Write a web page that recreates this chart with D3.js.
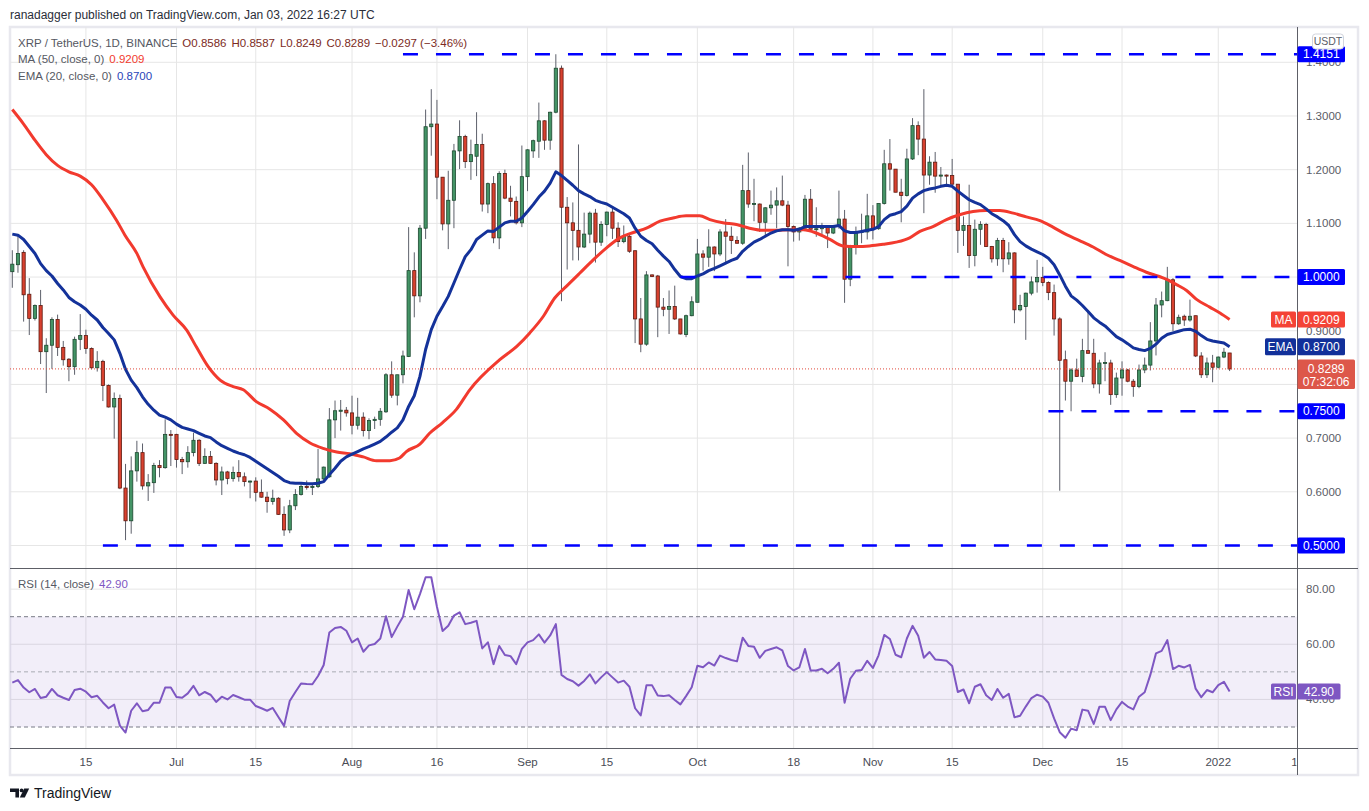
<!DOCTYPE html>
<html>
<head>
<meta charset="utf-8">
<script src="https://d3js.org/d3.v7.min.js"></script>
<style>
  body { margin: 0; background: #fff; }
  text { font-family: "Liberation Sans", Arial, sans-serif; }
</style>
</head>
<body>
<svg id="chart" width="1369" height="811"></svg>
<script>
// XRP / USDT daily, 2 Jun 2021 .. 3 Jan 2022 (one value per day)
const firstDay = Date.UTC(2021, 5, 2);
const lastDay = Date.UTC(2022, 0, 3);

const opens = [1.010,1.023,1.046,0.968,0.923,0.947,0.861,0.873,0.921,0.869,0.847,0.833,0.884,0.891,0.867,0.831,0.843,0.798,0.758,0.774,
  0.607,0.546,0.639,0.673,0.611,0.617,0.649,0.645,0.707,0.707,0.660,0.656,0.673,0.696,0.653,0.666,0.653,0.622,0.637,0.625,
  0.636,0.628,0.619,0.620,0.599,0.590,0.582,0.588,0.558,0.529,0.574,0.595,0.610,0.608,0.610,0.624,0.628,0.734,0.750,0.752,
  0.747,0.724,0.739,0.714,0.733,0.735,0.749,0.818,0.780,0.818,0.852,1.012,0.965,1.091,1.280,1.285,1.186,1.099,1.143,1.235,
  1.262,1.215,1.225,1.247,1.136,1.174,1.073,1.193,1.147,1.141,1.101,1.187,1.235,1.253,1.291,1.255,1.307,1.389,1.130,1.101,
  1.087,1.056,1.080,1.119,1.065,1.098,1.121,1.091,1.066,1.076,1.049,0.922,0.875,1.004,1.002,0.944,0.940,0.945,0.922,0.893,
  0.928,0.953,1.043,1.037,1.056,1.043,1.084,1.076,1.068,1.063,1.161,1.136,1.136,1.102,1.129,1.134,1.142,1.134,1.094,1.084,
  1.091,1.145,1.089,1.090,1.093,1.082,1.094,1.108,0.996,1.058,1.084,1.084,1.114,1.090,1.137,1.211,1.201,1.158,1.152,1.220,
  1.282,1.257,1.190,1.214,1.188,1.190,1.189,1.173,1.087,1.096,1.040,1.089,1.098,1.057,1.034,1.068,1.034,1.045,0.939,0.945,
  0.970,0.991,0.999,0.990,0.971,0.922,0.846,0.806,0.827,0.815,0.863,0.858,0.801,0.840,0.840,0.781,0.812,0.827,0.806,0.796,
  0.827,0.836,0.881,0.948,0.956,0.995,0.913,0.927,0.920,0.928,0.853,0.818,0.840,0.832,0.851,0.8586];
const highs = [1.050,1.080,1.050,0.998,0.949,0.976,0.886,0.925,0.930,0.881,0.849,0.889,0.931,0.902,0.869,0.862,0.846,0.800,0.785,0.781,
  0.652,0.666,0.695,0.690,0.633,0.654,0.659,0.735,0.715,0.708,0.665,0.685,0.710,0.698,0.681,0.676,0.655,0.647,0.639,0.647,
  0.659,0.636,0.621,0.627,0.623,0.600,0.604,0.590,0.573,0.585,0.605,0.616,0.621,0.616,0.680,0.647,0.756,0.770,0.771,0.758,
  0.779,0.775,0.748,0.737,0.740,0.756,0.821,0.843,0.818,0.863,1.093,1.046,1.097,1.312,1.350,1.330,1.186,1.198,1.248,1.292,
  1.265,1.256,1.307,1.267,1.176,1.188,1.197,1.200,1.170,1.150,1.245,1.238,1.256,1.325,1.292,1.308,1.415,1.394,1.149,1.139,
  1.247,1.120,1.122,1.127,1.104,1.122,1.129,1.102,1.096,1.079,1.050,0.961,1.011,1.005,1.004,0.961,0.975,0.984,0.922,0.930,
  0.964,1.071,1.050,1.089,1.057,1.089,1.108,1.094,1.076,1.209,1.232,1.183,1.137,1.130,1.161,1.167,1.189,1.142,1.096,1.093,
  1.153,1.164,1.130,1.101,1.094,1.097,1.161,1.125,1.060,1.094,1.118,1.155,1.134,1.137,1.237,1.257,1.201,1.183,1.239,1.296,
  1.290,1.350,1.225,1.233,1.205,1.191,1.220,1.173,1.113,1.172,1.107,1.104,1.101,1.058,1.073,1.073,1.065,1.046,0.967,0.971,
  1.001,1.032,1.019,0.992,0.986,0.925,0.863,0.830,0.848,0.885,0.936,0.885,0.846,0.860,0.846,0.822,0.843,0.829,0.810,0.837,
  0.850,0.916,0.961,0.973,1.019,0.998,0.930,0.930,0.958,0.928,0.860,0.850,0.855,0.852,0.868,0.8587];
const lows = [0.980,1.008,0.917,0.892,0.919,0.838,0.784,0.829,0.853,0.835,0.806,0.818,0.864,0.857,0.828,0.824,0.769,0.757,0.699,0.605,
  0.510,0.522,0.619,0.604,0.583,0.598,0.627,0.643,0.648,0.645,0.633,0.645,0.666,0.648,0.652,0.652,0.612,0.594,0.614,0.619,
  0.619,0.610,0.588,0.582,0.589,0.561,0.576,0.557,0.518,0.523,0.566,0.593,0.604,0.594,0.607,0.621,0.626,0.700,0.714,0.740,
  0.707,0.716,0.703,0.698,0.717,0.723,0.747,0.775,0.761,0.802,0.851,0.925,0.953,1.071,1.226,1.145,1.087,1.052,1.091,1.201,
  1.203,1.181,1.188,1.122,1.119,1.063,1.052,1.145,1.113,1.098,1.093,1.160,1.222,1.222,1.237,1.237,1.305,0.955,1.014,1.031,
  1.031,1.054,1.063,1.027,1.058,1.076,1.071,1.056,1.063,1.045,0.877,0.860,0.872,1.000,0.888,0.927,0.894,0.920,0.893,0.888,
  0.927,0.953,1.012,1.019,1.011,1.039,1.024,1.043,1.062,1.060,1.129,1.104,1.084,1.077,1.116,1.091,1.132,1.020,1.066,1.068,
  1.088,1.088,1.075,1.080,1.054,1.080,1.090,0.952,0.983,1.042,1.063,1.070,1.070,1.088,1.135,1.161,1.158,1.102,1.150,1.218,
  1.227,1.119,1.172,1.157,1.169,1.172,1.172,1.045,1.058,1.017,1.020,1.060,1.056,1.027,1.021,1.009,1.023,0.914,0.936,0.883,
  0.966,0.971,0.983,0.957,0.891,0.602,0.770,0.750,0.814,0.804,0.857,0.793,0.783,0.806,0.762,0.775,0.779,0.804,0.777,0.793,
  0.821,0.826,0.854,0.925,0.955,0.899,0.911,0.909,0.917,0.851,0.812,0.812,0.804,0.830,0.849,0.8249];
const closes = [1.024,1.044,0.967,0.923,0.947,0.861,0.873,0.921,0.869,0.846,0.833,0.884,0.891,0.867,0.831,0.843,0.798,0.758,0.774,0.607,
  0.546,0.639,0.673,0.611,0.617,0.649,0.645,0.707,0.706,0.660,0.656,0.673,0.696,0.653,0.666,0.653,0.622,0.637,0.625,0.636,
  0.628,0.619,0.620,0.599,0.590,0.582,0.588,0.558,0.529,0.574,0.595,0.610,0.608,0.610,0.624,0.646,0.734,0.751,0.752,0.747,
  0.724,0.739,0.714,0.733,0.735,0.750,0.818,0.780,0.818,0.853,1.012,0.965,1.091,1.280,1.285,1.186,1.099,1.143,1.235,1.262,
  1.215,1.228,1.247,1.136,1.174,1.073,1.193,1.147,1.141,1.101,1.187,1.237,1.254,1.291,1.255,1.307,1.389,1.130,1.101,1.087,
  1.056,1.080,1.119,1.065,1.098,1.121,1.091,1.066,1.076,1.048,0.922,0.875,1.004,1.001,0.944,0.940,0.945,0.922,0.894,0.928,
  0.954,1.043,1.037,1.056,1.043,1.084,1.076,1.068,1.063,1.161,1.136,1.137,1.102,1.129,1.134,1.142,1.134,1.094,1.084,1.091,
  1.145,1.089,1.090,1.094,1.082,1.094,1.108,0.996,1.058,1.084,1.085,1.114,1.090,1.137,1.211,1.201,1.158,1.152,1.220,1.282,
  1.257,1.190,1.214,1.188,1.190,1.188,1.173,1.087,1.096,1.040,1.089,1.098,1.057,1.034,1.068,1.034,1.045,0.939,0.947,0.970,
  0.991,0.999,0.990,0.971,0.922,0.845,0.806,0.827,0.815,0.863,0.858,0.801,0.840,0.841,0.781,0.812,0.827,0.806,0.796,0.827,
  0.836,0.881,0.948,0.956,0.995,0.913,0.925,0.920,0.927,0.853,0.818,0.840,0.832,0.851,0.860,0.8289];

const ema20 = [1.080,1.078,1.070,1.057,1.044,1.025,1.012,1.002,0.988,0.976,0.962,0.954,0.948,0.940,0.929,0.920,0.906,0.895,0.883,0.858,
  0.828,0.808,0.794,0.777,0.763,0.752,0.743,0.739,0.734,0.726,0.720,0.717,0.714,0.709,0.704,0.701,0.693,0.686,0.681,0.676,
  0.672,0.669,0.664,0.657,0.650,0.643,0.636,0.629,0.621,0.617,0.616,0.616,0.615,0.615,0.616,0.619,0.632,0.644,0.657,0.665,
  0.670,0.675,0.680,0.684,0.689,0.694,0.702,0.711,0.719,0.734,0.759,0.779,0.815,0.865,0.902,0.927,0.945,0.964,0.989,1.014,
  1.038,1.051,1.070,1.078,1.086,1.085,1.093,1.101,1.104,1.104,1.110,1.122,1.135,1.149,1.160,1.175,1.196,1.189,1.180,1.171,
  1.161,1.155,1.150,1.143,1.139,1.136,1.130,1.124,1.118,1.110,1.091,1.076,1.068,1.062,1.050,1.039,1.029,1.014,1.001,0.997,
  0.997,1.002,1.006,1.012,1.016,1.021,1.026,1.031,1.035,1.048,1.057,1.065,1.070,1.076,1.082,1.086,1.088,1.088,1.087,1.089,
  1.094,1.094,1.094,1.094,1.094,1.094,1.096,1.086,1.083,1.083,1.085,1.087,1.089,1.094,1.107,1.115,1.118,1.122,1.132,1.147,
  1.155,1.161,1.164,1.166,1.169,1.171,1.169,1.160,1.152,1.144,1.139,1.135,1.127,1.118,1.112,1.105,1.096,1.079,1.066,1.058,
  1.052,1.047,1.042,1.035,1.023,1.004,0.983,0.965,0.957,0.947,0.936,0.924,0.916,0.909,0.899,0.889,0.883,0.876,0.868,0.865,
  0.863,0.867,0.875,0.886,0.893,0.896,0.899,0.902,0.903,0.899,0.891,0.884,0.881,0.879,0.877,0.870];

// 50-day MA as [day index, value]
const ma50 = [[0,1.312],[2,1.285],[4,1.255],[6,1.228],[8,1.208],[10,1.196],[12,1.188],[14,1.172],[16.1,1.143],[18.4,1.106],
  [19.9,1.078],[22,1.044],[23.1,1.019],[26.1,0.963],[28.4,0.929],[30.8,0.901],[32.5,0.870],[34.6,0.833],[36.7,0.808],[39,0.796],
  [40.8,0.790],[43.1,0.768],[45.5,0.754],[47.9,0.734],[50.2,0.709],[52.6,0.691],[54.9,0.681],[57.3,0.674],[59.6,0.671],[62,0.665],
  [64.3,0.658],[66.7,0.658],[68.4,0.663],[69.6,0.675],[72,0.689],[73.7,0.709],[76,0.729],[78.4,0.753],[80.8,0.790],[86.1,0.846],
  [89.1,0.871],[91.4,0.896],[93.8,0.927],[95.8,0.961],[97.9,0.983],[100.2,1.007],[102.6,1.032],[104.9,1.054],[107.3,1.073],[109.7,1.083],
  [112,1.091],[114.4,1.104],[116.7,1.110],[119,1.114],[121.4,1.114],[123.2,1.107],[125.5,1.101],[127.9,1.098],[130.2,1.091],[132.6,1.087],
  [135,1.087],[137.3,1.088],[139.7,1.088],[142,1.082],[144.4,1.070],[146.7,1.058],[149.1,1.057],[151.4,1.058],[153.8,1.061],[156.1,1.065],
  [158.5,1.073],[160.3,1.085],[162.6,1.094],[165,1.107],[167.3,1.116],[169.7,1.122],[172,1.124],[174.4,1.124],[176.8,1.119],[179.1,1.112],
  [181.5,1.105],[183.8,1.093],[186.2,1.079],[188.5,1.068],[190.9,1.056],[193.2,1.042],[195.6,1.031],[197.9,1.020],[200.3,1.009],[202.6,1.001],
  [203.8,0.996],[205.6,0.986],[207.4,0.975],[209.1,0.959],[211.5,0.944],[213.3,0.933],[215,0.9209]];

const rsi14 = [46.1,47.0,44.3,42.6,43.8,40.5,41.0,43.8,41.5,40.6,39.8,43.4,43.9,42.8,40.8,41.3,38.9,36.8,38.1,30.5,
  28.0,35.9,38.6,35.7,36.2,38.8,38.8,44.3,44.3,40.9,40.6,42.2,44.9,41.5,42.7,41.7,39.1,41.0,40.0,41.6,
  40.8,39.9,39.9,37.6,36.8,35.9,36.9,33.6,30.4,39.4,42.7,45.8,45.6,45.5,48.5,52.5,64.3,65.9,66.3,64.9,
  60.7,62.1,57.3,59.6,60.1,62.1,70.2,62.6,66.4,70.0,79.7,72.7,78.2,84.3,84.3,73.6,64.8,66.7,70.4,71.6,
  67.3,67.8,68.5,58.5,60.7,52.8,59.4,56.1,55.7,52.8,58.3,60.7,61.5,63.6,60.6,63.2,67.3,48.9,47.4,46.6,
  45.0,46.7,49.1,45.8,48.0,49.9,48.0,46.1,46.8,44.6,36.8,34.2,45.1,45.1,41.4,41.2,41.5,39.8,38.2,41.2,
  44.4,52.2,51.7,53.4,52.3,55.9,55.0,54.3,53.8,62.4,59.4,59.1,55.1,57.6,58.3,58.9,57.8,52.1,50.5,51.6,
  58.3,50.5,50.5,51.1,49.5,51.1,53.3,38.8,47.5,50.4,50.7,54.0,51.4,56.0,63.4,61.9,56.2,55.3,62.1,66.7,
  63.1,55.1,57.2,54.5,54.3,54.0,52.1,42.7,43.6,38.6,44.6,45.5,41.5,39.8,43.8,40.6,42.0,33.5,34.1,37.4,
  40.5,41.7,41.0,38.8,33.1,28.1,26.1,29.4,28.8,36.3,35.9,31.1,37.3,37.3,32.5,36.4,39.1,37.4,36.4,41.0,
  42.6,48.9,56.7,57.6,61.5,51.0,52.2,51.6,52.5,43.9,40.8,43.4,42.6,45.2,46.4,42.9];

// horizontal levels drawn by the author
const levelValues = [1.4151, 1.0, 0.75, 0.5];
const levelStarts = ["2021-08-10", "2021-09-28", "2021-12-02", "2021-06-18"];

// 1.0, 0.8 and 0.5 sit fully under the price badges, so they are not listed
const priceTicks = [0.6, 0.7, 0.9, 1.1, 1.2, 1.3, 1.4];
const gridTicks = [0.5, 0.6, 0.7, 0.8, 0.9, 1.0, 1.1, 1.2, 1.3, 1.4];
const rsiTicks = [40, 60, 80];
const timeTicks = ["2021-06-15","2021-07-01","2021-07-15","2021-08-01","2021-08-16","2021-09-01","2021-09-15",
  "2021-10-01","2021-10-18","2021-11-01","2021-11-15","2021-12-01","2021-12-15","2022-01-01","2022-01-15"];
const timeLabels = ["15","Jul","15","Aug","16","Sep","15","Oct","18","Nov","15","Dec","15","2022","15"];

const lastClose = closes[closes.length - 1];
const lastMa = ma50[ma50.length - 1][1];
const lastEma = ema20[ema20.length - 1];
const lastRsi = rsi14[rsi14.length - 1];

// ---- layout
const plotLeft = 10, axisX = 1297.5, plotRight = 1358;
const paneTop = 27, paneSplit = 568.5, bottomAxis = 748.5, frameBottom = 775;

const svg = d3.select("#chart");

const x = d3.scaleUtc().domain([new Date(firstDay), new Date(lastDay)]).range([12.3, 1229.6]);
const dayX = i => x(new Date(firstDay + i * 864e5));
const y = d3.scaleLinear().domain([0.5, 1.4]).range([545.5, 62.3]);
const yR = d3.scaleLinear().domain([30, 70]).range([727, 616.7]);

const defs = svg.append("defs");
defs.append("clipPath").attr("id", "clipPrice")
  .append("rect").attr("x", plotLeft).attr("y", paneTop).attr("width", axisX - plotLeft).attr("height", paneSplit - paneTop);
defs.append("clipPath").attr("id", "clipRsi")
  .append("rect").attr("x", plotLeft).attr("y", paneSplit).attr("width", axisX - plotLeft).attr("height", bottomAxis - paneSplit);
defs.append("clipPath").attr("id", "clipTime")
  .append("rect").attr("x", plotLeft).attr("y", bottomAxis).attr("width", axisX - plotLeft - 1).attr("height", 30);

// header
svg.append("text").attr("x", 10).attr("y", 19).attr("font-size", 12).attr("fill", "#2a2e39")
  .text("ranadagger published on TradingView.com, Jan 03, 2022 16:27 UTC");

// frame
svg.append("rect").attr("x", plotLeft).attr("y", paneTop).attr("width", plotRight - plotLeft).attr("height", frameBottom - paneTop)
  .attr("fill", "none").attr("stroke", "#e8e8ee").attr("stroke-width", 2.5);

// grid
const tickDates = timeTicks.map(d => new Date(d + "T00:00:00Z"));
svg.append("g").attr("clip-path", "url(#clipPrice)")
  .selectAll("line").data(tickDates).join("line")
  .attr("x1", d => x(d)).attr("x2", d => x(d)).attr("y1", paneTop).attr("y2", paneSplit)
  .attr("stroke", "#e6e6e6");
svg.append("g").attr("clip-path", "url(#clipRsi)")
  .selectAll("line").data(tickDates).join("line")
  .attr("x1", d => x(d)).attr("x2", d => x(d)).attr("y1", paneSplit).attr("y2", bottomAxis)
  .attr("stroke", "#e6e6e6");
svg.append("g").selectAll("line").data(gridTicks).join("line")
  .attr("x1", plotLeft).attr("x2", axisX).attr("y1", d => y(d)).attr("y2", d => y(d))
  .attr("stroke", "#e6e6e6");
svg.append("g").selectAll("line").data(rsiTicks).join("line")
  .attr("x1", plotLeft).attr("x2", axisX).attr("y1", d => yR(d)).attr("y2", d => yR(d))
  .attr("stroke", "#e6e6e6");

// RSI band
svg.append("rect").attr("x", plotLeft).attr("y", yR(70)).attr("width", axisX - plotLeft).attr("height", yR(30) - yR(70))
  .attr("fill", "#7e57c2").attr("fill-opacity", 0.1);
svg.append("g").selectAll("line").data([70, 50, 30]).join("line")
  .attr("x1", plotLeft).attr("x2", axisX).attr("y1", d => yR(d)).attr("y2", d => yR(d))
  .attr("stroke", d => d === 50 ? "#a9abb3" : "#787b86").attr("stroke-dasharray", "4,3");

// candles
const plot = svg.append("g").attr("clip-path", "url(#clipPrice)");
const candles = plot.append("g").selectAll("g").data(opens.map((o, i) => ({
  i, o, h: highs[i], l: lows[i], c: closes[i]
}))).join("g");
candles.append("line")
  .attr("x1", d => dayX(d.i)).attr("x2", d => dayX(d.i))
  .attr("y1", d => y(d.h)).attr("y2", d => y(d.l))
  .attr("stroke", "#5d606b").attr("stroke-width", 1);
candles.append("rect")
  .attr("x", d => dayX(d.i) - 1.6).attr("width", 3.2)
  .attr("y", d => y(Math.max(d.o, d.c)))
  .attr("height", d => Math.max(1, Math.abs(y(d.o) - y(d.c))))
  .attr("fill", d => d.c >= d.o ? "#449466" : "#d8412f")
  .attr("stroke", d => d.c >= d.o ? "#1d4930" : "#5e1a10")
  .attr("stroke-width", 0.8);

// moving averages
plot.append("path").datum(ma50)
  .attr("d", d3.line().x(d => dayX(d[0])).y(d => y(d[1])).curve(d3.curveMonotoneX))
  .attr("fill", "none").attr("stroke", "#f23a2e").attr("stroke-width", 3);
plot.append("path").datum(ema20)
  .attr("d", d3.line().x((d, i) => dayX(i)).y(d => y(d)))
  .attr("fill", "none").attr("stroke", "#14329a").attr("stroke-width", 3).attr("stroke-linejoin", "round");

// last close dotted line
plot.append("line").attr("x1", plotLeft).attr("x2", axisX).attr("y1", y(lastClose)).attr("y2", y(lastClose))
  .attr("stroke", "#e0473a").attr("stroke-dasharray", "1,2");

// author levels
plot.append("g").selectAll("line").data(levelValues).join("line")
  .attr("x1", (d, i) => x(new Date(levelStarts[i] + "T00:00:00Z"))).attr("x2", axisX)
  .attr("y1", d => y(d)).attr("y2", d => y(d))
  .attr("stroke", "#0000ff").attr("stroke-width", 2.6).attr("stroke-dasharray", "15,18");

// RSI line
svg.append("g").attr("clip-path", "url(#clipRsi)").append("path").datum(rsi14)
  .attr("d", d3.line().x((d, i) => dayX(i)).y(d => yR(d)))
  .attr("fill", "none").attr("stroke", "#7e57c2").attr("stroke-width", 2).attr("stroke-linejoin", "round");

// separators and axes
svg.append("line").attr("x1", plotLeft).attr("x2", plotRight).attr("y1", paneSplit).attr("y2", paneSplit).attr("stroke", "#5d5f66");
svg.append("line").attr("x1", plotLeft).attr("x2", plotRight).attr("y1", bottomAxis).attr("y2", bottomAxis).attr("stroke", "#5d5f66");
svg.append("line").attr("x1", axisX).attr("x2", axisX).attr("y1", paneTop).attr("y2", frameBottom).attr("stroke", "#5d5f66");

// time axis labels
svg.append("g").attr("clip-path", "url(#clipTime)")
  .selectAll("text").data(tickDates).join("text")
  .attr("x", d => x(d)).attr("y", 766).attr("text-anchor", "middle")
  .attr("font-size", 11.5).attr("fill", "#4a4c55")
  .text((d, i) => timeLabels[i]);

// price axis labels
svg.append("g").selectAll("text").data(priceTicks).join("text")
  .attr("x", 1306).attr("y", d => y(d) + 4).attr("font-size", 11.5).attr("fill", "#5a5d66")
  .text(d => d.toFixed(4));
svg.append("g").selectAll("text").data(rsiTicks).join("text")
  .attr("x", 1306).attr("y", d => yR(d) + 4).attr("font-size", 11.5).attr("fill", "#5a5d66")
  .text(d => d.toFixed(2));

// axis badges
function badge(x0, yc, w, h, fill, label) {
  const g = svg.append("g");
  g.append("rect").attr("x", x0).attr("y", yc - h / 2).attr("width", w).attr("height", h).attr("rx", 1.5).attr("fill", fill);
  g.append("text").attr("x", x0 + w / 2).attr("y", yc + 4.2).attr("text-anchor", "middle")
    .attr("font-size", 12).attr("fill", "#fff").text(label);
}
levelValues.forEach(v => badge(axisX, y(v), 47.5, 16, "#0000ff", v.toFixed(4)));
badge(1271, y(lastMa), 25, 16, "#f44336", "MA");
badge(axisX, y(lastMa), 47.5, 16, "#f44336", lastMa.toFixed(4));
badge(1265, y(lastEma), 31, 17, "#12309a", "EMA");
badge(axisX, y(lastEma), 47.5, 17, "#12309a", lastEma.toFixed(4));
badge(1271, yR(lastRsi), 25, 16, "#7e57c2", "RSI");
badge(axisX, yR(lastRsi), 43, 16, "#7e57c2", lastRsi.toFixed(2));

const priceTag = svg.append("g");
priceTag.append("rect").attr("x", axisX).attr("y", y(lastClose) - 9.5).attr("width", 57.5).attr("height", 29.5)
  .attr("rx", 1.5).attr("fill", "#dd574a");
priceTag.append("text").attr("x", axisX + 28.7).attr("y", y(lastClose) + 4).attr("text-anchor", "middle")
  .attr("font-size", 12).attr("fill", "#fff").text(lastClose.toFixed(4));
priceTag.append("text").attr("x", axisX + 28.7).attr("y", y(lastClose) + 17).attr("text-anchor", "middle")
  .attr("font-size", 12).attr("fill", "#fff").text("07:32:06");

const unit = svg.append("g");
unit.append("rect").attr("x", 1312.5).attr("y", 34).attr("width", 31).attr("height", 15).attr("rx", 3)
  .attr("fill", "#fff").attr("stroke", "#d1d4dc");
unit.append("text").attr("x", 1328).attr("y", 45).attr("text-anchor", "middle")
  .attr("font-size", 10.5).attr("fill", "#5a5d66").text("USDT");

// legends: pieces follow one another with a small gap
const legendGray = "#555862";
function legend(yb, parts) {
  const t = svg.append("text").attr("x", 18).attr("y", yb).attr("font-size", 11.5);
  parts.forEach((p, k) => t.append("tspan").attr("dx", k === 0 ? 0 : 5).attr("fill", p[1]).text(p[0]));
}
const valueRed = "#7c2b24";
legend(47, [["XRP / TetherUS, 1D, BINANCE", legendGray],
  ["O" + opens[opens.length - 1].toFixed(4), valueRed],
  ["H" + highs[highs.length - 1].toFixed(4), valueRed],
  ["L" + lows[lows.length - 1].toFixed(4), valueRed],
  ["C" + lastClose.toFixed(4), valueRed],
  ["\u22120.0297 (\u22123.46%)", valueRed]]);
legend(63, [["MA (50, close, 0)", legendGray], [lastMa.toFixed(4), "#f23a2e"]]);
legend(79.5, [["EMA (20, close, 0)", legendGray], [lastEma.toFixed(4), "#2a44b8"]]);
legend(588, [["RSI (14, close)", legendGray], [lastRsi.toFixed(2), "#7e57c2"]]);

// TradingView logo
const logo = svg.append("g").attr("fill", "#131722");
logo.append("path").attr("d", "M10 788.5 h9 v9 h-3.6 v-5.4 h-5.4 z");
logo.append("circle").attr("cx", 21.6).attr("cy", 790.4).attr("r", 1.9);
logo.append("path").attr("d", "M24.2 788.5 h5 l-4.4 9 h-5 z");
svg.append("text").attr("x", 34).attr("y", 798).attr("font-size", 14).attr("fill", "#131722").text("TradingView");
</script>
</body>
</html>
